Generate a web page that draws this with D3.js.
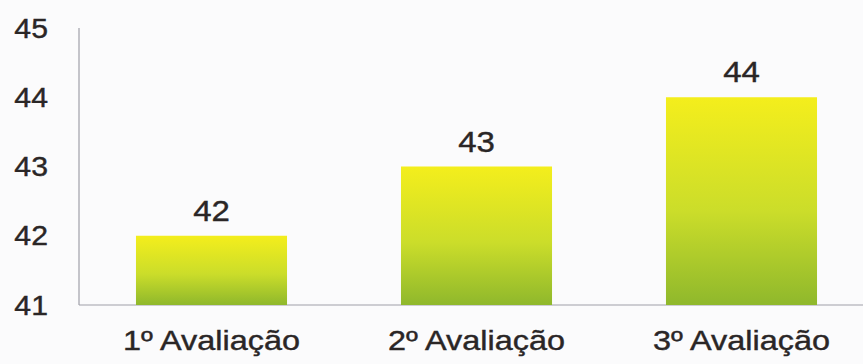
<!DOCTYPE html>
<html><head><meta charset="utf-8">
<script src="https://cdn.jsdelivr.net/npm/d3@7"></script>
<style>html,body{margin:0;padding:0;background:#fbfbfc;}svg{display:block;}</style>
</head><body>
<script>
const categories = ["1º Avaliação", "2º Avaliação", "3º Avaliação"];
const values = [42, 43, 44];
const yTicks = [41, 42, 43, 44, 45];

const W = 863, H = 364;
const svg = d3.select("body").append("svg").attr("width", W).attr("height", H);

const defs = svg.append("defs");
const grad = defs.append("linearGradient").attr("id", "g").attr("x1", 0).attr("y1", 0).attr("x2", 0).attr("y2", 1);
grad.append("stop").attr("offset", "0%").attr("stop-color", "#f4ee1c");
grad.append("stop").attr("offset", "55%").attr("stop-color", "#cbdd2a");
grad.append("stop").attr("offset", "100%").attr("stop-color", "#8fb82c");

const x = d3.scaleBand().domain(categories).range([79, 874]).paddingInner(0.43).paddingOuter(0.215);
const y = d3.scaleLinear().domain([41, 45]).range([305, 28]);

const font = "'Liberation Sans', Arial, sans-serif";
const ink = "#2a2626";

// axis lines
svg.append("line").attr("x1", 79).attr("x2", 79).attr("y1", y(45)).attr("y2", y(41))
  .attr("stroke", "#a0a0a8").attr("stroke-width", 1.2);
svg.append("line").attr("x1", 79).attr("x2", W).attr("y1", y(41)).attr("y2", y(41))
  .attr("stroke", "#a0a0a8").attr("stroke-width", 1.2);

function styleText(sel, size) {
  sel.attr("font-family", font).attr("font-size", size)
    .attr("fill", ink).attr("stroke", ink).attr("stroke-width", 0.4);
}

// y tick labels
svg.append("g").selectAll("text").data(yTicks).join("text")
  .attr("transform", d => `translate(48,${y(d)}) scale(1.12,1)`).attr("dy", "0.36em")
  .attr("text-anchor", "end").call(styleText, 27).text(d => d);

// bars
svg.append("g").selectAll("rect").data(values).join("rect")
  .attr("x", (d, i) => x(categories[i])).attr("width", x.bandwidth())
  .attr("y", d => y(d)).attr("height", d => y(41) - y(d))
  .attr("fill", "url(#g)");

// value labels
svg.append("g").selectAll("text").data(values).join("text")
  .attr("transform", (d, i) => `translate(${x(categories[i]) + x.bandwidth() / 2},${y(d) - 15}) scale(1.1,1)`)
  .attr("text-anchor", "middle").call(styleText, 30).text(d => d);

// category labels
svg.append("g").selectAll("text").data(categories).join("text")
  .attr("transform", d => `translate(${x(d) + x.bandwidth() / 2},350) scale(1.2,1)`)
  .attr("text-anchor", "middle").call(styleText, 27).text(d => d);
</script>
</body></html>
